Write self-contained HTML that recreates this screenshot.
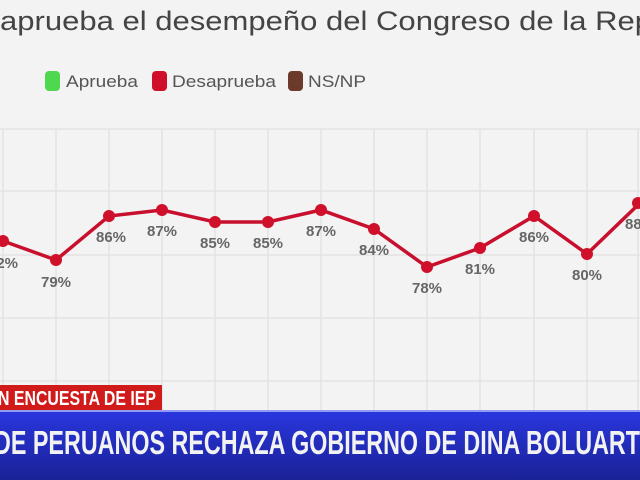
<!DOCTYPE html>
<html><head><style>
body{margin:0;width:640px;height:480px;overflow:hidden;background:#f3f3f3;font-family:"Liberation Sans",sans-serif;position:relative}
</style></head><body>
<svg width="640" height="480" style="position:absolute;left:0;top:0">
<g stroke="#e3e3e3" stroke-width="1.5">
<line x1="0" y1="129" x2="640" y2="129"/><line x1="0" y1="191" x2="640" y2="191"/><line x1="0" y1="255" x2="640" y2="255"/><line x1="0" y1="318" x2="640" y2="318"/><line x1="0" y1="381" x2="640" y2="381"/>
<line x1="3" y1="129" x2="3" y2="410"/><line x1="56" y1="129" x2="56" y2="410"/><line x1="109" y1="129" x2="109" y2="410"/><line x1="162" y1="129" x2="162" y2="410"/><line x1="215" y1="129" x2="215" y2="410"/><line x1="268" y1="129" x2="268" y2="410"/><line x1="321" y1="129" x2="321" y2="410"/><line x1="374" y1="129" x2="374" y2="410"/><line x1="427" y1="129" x2="427" y2="410"/><line x1="480" y1="129" x2="480" y2="410"/><line x1="534" y1="129" x2="534" y2="410"/><line x1="587" y1="129" x2="587" y2="410"/><line x1="638" y1="129" x2="638" y2="410"/>
</g>
<text x="0" y="30" font-size="27" fill="#444" textLength="652" lengthAdjust="spacingAndGlyphs">aprueba el desempeño del Congreso de la Rep</text>
<rect x="45" y="71" width="15" height="20" rx="4" fill="#4fd84f"/>
<text x="66" y="87" font-size="17" fill="#555" textLength="72" lengthAdjust="spacingAndGlyphs">Aprueba</text>
<rect x="152" y="71" width="15" height="20" rx="4" fill="#d0102a"/>
<text x="172" y="87" font-size="17" fill="#555" textLength="104" lengthAdjust="spacingAndGlyphs">Desaprueba</text>
<rect x="288" y="71" width="15" height="20" rx="4" fill="#6b3a2a"/>
<text x="308" y="87" font-size="17" fill="#555" textLength="58" lengthAdjust="spacingAndGlyphs">NS/NP</text>
<polyline fill="none" stroke="#c8102e" stroke-width="3.5" points="3,241 56,260 109,216 162,210 215,222 268,222 321,210 374,229 427,267 480,248 534,216 587,254 640,203"/>
<g fill="#d0102a">
<circle cx="3" cy="241" r="6"/><circle cx="56" cy="260" r="6"/><circle cx="109" cy="216" r="6"/><circle cx="162" cy="210" r="6"/><circle cx="215" cy="222" r="6"/><circle cx="268" cy="222" r="6"/><circle cx="321" cy="210" r="6"/><circle cx="374" cy="229" r="6"/><circle cx="427" cy="267" r="6"/><circle cx="480" cy="248" r="6"/><circle cx="534" cy="216" r="6"/><circle cx="587" cy="254" r="6"/><circle cx="638" cy="203" r="6"/>
</g>
<g font-size="15" font-weight="bold" fill="#666" text-anchor="middle">
<text x="3" y="268">82%</text><text x="56" y="287">79%</text><text x="111" y="242">86%</text><text x="162" y="236">87%</text><text x="215" y="248">85%</text><text x="268" y="248">85%</text><text x="321" y="236">87%</text><text x="374" y="255">84%</text><text x="427" y="293">78%</text><text x="480" y="274">81%</text><text x="534" y="242">86%</text><text x="587" y="280">80%</text><text x="640" y="229">88%</text>
</g>
<defs><linearGradient id="b" x1="0" y1="0" x2="0" y2="1"><stop offset="0" stop-color="#2a37e0"/><stop offset="1" stop-color="#1a2196"/></linearGradient></defs>
<rect x="0" y="410" width="640" height="70" fill="url(#b)"/>
<rect x="0" y="410" width="640" height="2" fill="#8f9af0"/>
<rect x="0" y="385" width="162" height="25" fill="#d11a1a"/>
<text x="-2" y="405" font-size="20" font-weight="bold" fill="#fff" textLength="158" lengthAdjust="spacingAndGlyphs">N ENCUESTA DE IEP</text>
<text x="-6" y="454" font-size="33" font-weight="bold" fill="#f2f2f2" textLength="646" lengthAdjust="spacingAndGlyphs">DE PERUANOS RECHAZA GOBIERNO DE DINA BOLUART</text>
</svg>
</body></html>
